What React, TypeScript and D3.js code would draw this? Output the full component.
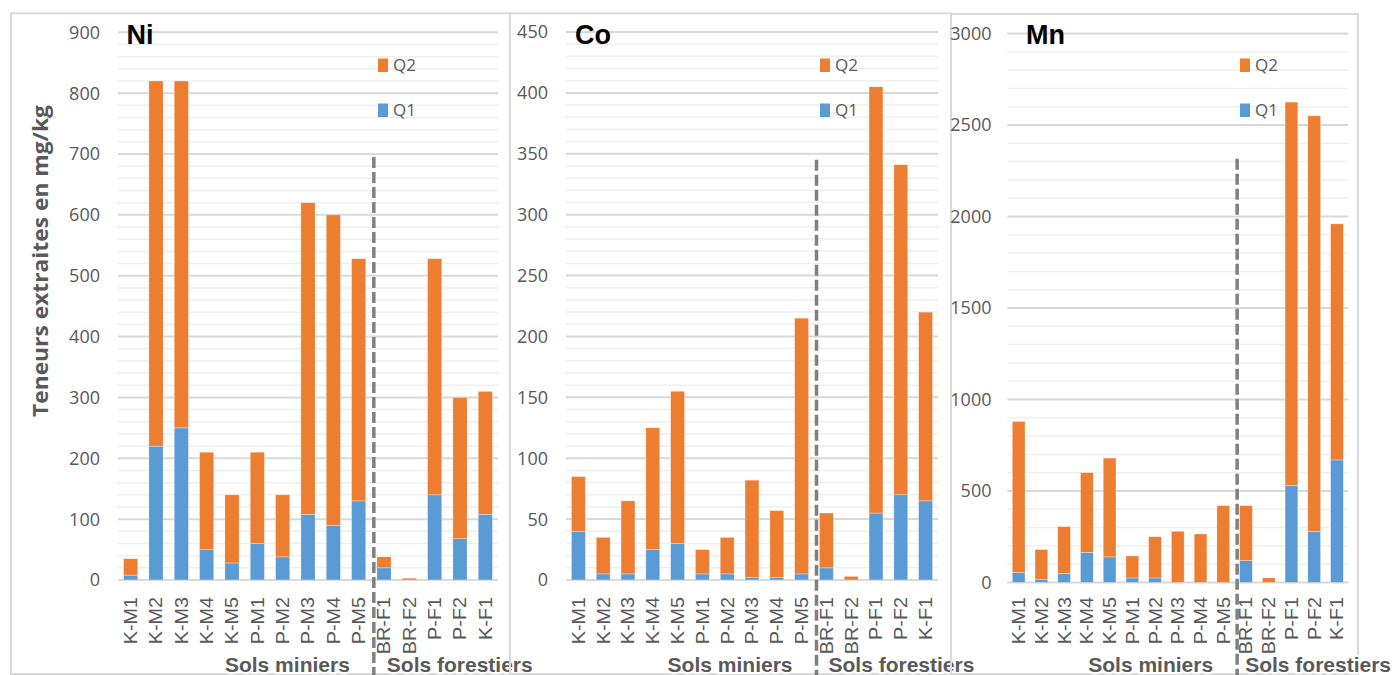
import React, { useEffect } from "react";
import * as d3 from "d3";

const categories = ["K-M1", "K-M2", "K-M3", "K-M4", "K-M5", "P-M1", "P-M2", "P-M3", "P-M4", "P-M5", "BR-F1", "BR-F2", "P-F1", "P-F2", "K-F1"];
const seriesNames = ["Q1", "Q2"];

const niQ1 = [8, 220, 250, 50, 28, 60, 38, 108, 90, 130, 20, 0, 140, 68, 108];
const niQ2 = [27, 600, 570, 160, 112, 150, 102, 512, 510, 398, 18, 3, 388, 232, 202];

const coQ1 = [40, 5, 5, 25, 30, 5, 5, 2, 2, 5, 10, 0, 55, 70, 65];
const coQ2 = [45, 30, 60, 100, 125, 20, 30, 80, 55, 210, 45, 3, 350, 271, 155];

const mnQ1 = [55, 18, 50, 165, 140, 25, 25, 0, 0, 0, 120, 0, 530, 280, 670];
const mnQ2 = [825, 162, 255, 435, 540, 120, 225, 280, 265, 420, 300, 25, 2095, 2270, 1290];

const niTicks = [0, 100, 200, 300, 400, 500, 600, 700, 800, 900];
const coTicks = [0, 50, 100, 150, 200, 250, 300, 350, 400, 450];
const mnTicks = [0, 500, 1000, 1500, 2000, 2500, 3000];

const groupLabels = ["Sols miniers", "Sols forestiers"];
const yTitle = "Teneurs extraites en mg/kg";

const COLORS: Record<string, string> = { Q1: "#5B9BD5", Q2: "#ED7D31" };
const GREY = "#595959";

type Panel = {
  title: string;
  q1: number[];
  q2: number[];
  ticks: number[];
  x0: number; x1: number;
  y0: number; y1: number;
  tickRight: number;
  titleX: number;
  legendX: number;
  dashTop: number;
  frame: [number, number, number];
  forestOffset: number;
};

const panels: Panel[] = [
  { title: "Ni", q1: niQ1, q2: niQ2, ticks: niTicks, x0: 118, x1: 498, y0: 580, y1: 32.3, tickRight: 100, titleX: 126.5, legendX: 378, dashTop: 695, frame: [11, 510, 13.3], forestOffset: 13 },
  { title: "Co", q1: coQ1, q2: coQ2, ticks: coTicks, x0: 566, x1: 938, y0: 580, y1: 32, tickRight: 548, titleX: 575, legendX: 820, dashTop: 345, frame: [510, 951, 13.3], forestOffset: 12 },
  { title: "Mn", q1: mnQ1, q2: mnQ2, ticks: mnTicks, x0: 1007.3, x1: 1348.3, y0: 582.5, y1: 33.5, tickRight: 991.5, titleX: 1026, legendX: 1240, dashTop: 2315, frame: [951, 1358, 14], forestOffset: 8 },
];

function ChartPanel({ p }: { p: Panel }) {
  const maxV = p.ticks[p.ticks.length - 1];
  const step = p.ticks[1] - p.ticks[0];
  const x = d3.scaleBand<string>().domain(categories).range([p.x0, p.x1]).paddingInner(0.44).paddingOuter(0.22);
  const y = d3.scaleLinear().domain([0, maxV]).range([p.y0, p.y1]);
  const minorTicks = d3.range(0, maxV + 1e-9, step / 5).filter((v) => !p.ticks.some((t) => Math.abs(t - v) < 1e-6));
  const rows = categories.map((c, i) => ({ cat: c, Q1: p.q1[i], Q2: p.q2[i] }));
  const stacked = d3.stack<any>().keys(seriesNames)(rows);
  const dashX = (x(categories[9])! + x(categories[10])! + x.bandwidth()) / 2 + 2.5;
  const [fx0, fx1, fy0] = p.frame;
  return (
    <g>
      <rect x={fx0} y={fy0} width={fx1 - fx0} height={674 - fy0} fill="none" stroke="#D9D9D9" strokeWidth={2} />
      {minorTicks.map((v) => (
        <line key={"m" + v} x1={p.x0} x2={p.x1} y1={y(v)} y2={y(v)} stroke="#EFEFEF" strokeWidth={1.5} />
      ))}
      {p.ticks.map((v) => (
        <line key={"M" + v} x1={p.x0} x2={p.x1} y1={y(v)} y2={y(v)} stroke="#D9D9D9" strokeWidth={2} />
      ))}
      {p.ticks.map((v) => (
        <text key={"t" + v} x={p.tickRight} y={y(v)} dy="0.36em" textAnchor="end" fontFamily="'Open Sans', sans-serif" fontSize={18} fill={GREY}>
          {v}
        </text>
      ))}
      {stacked.map((s) => (
        <g key={s.key} fill={COLORS[s.key]}>
          {s.map((d, i) =>
            d[1] - d[0] > 0 ? (
              <rect key={i} x={x(categories[i])} width={x.bandwidth()} y={y(d[1])} height={y(d[0]) - y(d[1])} stroke="#ffffff" strokeOpacity={0.5} strokeWidth={0.6} />
            ) : null
          )}
        </g>
      ))}
      {categories.map((c) => {
        const cx = x(c)! + x.bandwidth() / 2;
        return (
          <text key={c} transform={`translate(${cx},597) rotate(-90) scale(1.1,1)`} dy="0.36em" textAnchor="end" fontFamily="'Liberation Sans', Arial, sans-serif" fontSize={18} fill={GREY}>
            {c}
          </text>
        );
      })}
      <line x1={dashX} x2={dashX} y1={y(p.dashTop)} y2={675} stroke="#808080" strokeWidth={3.5} strokeDasharray="11,4" />
      <text x={dashX - 24} y={671.5} textAnchor="end" fontFamily="'Liberation Sans', Arial, sans-serif" fontWeight="bold" fontSize={21} fill={GREY} stroke="#fff" strokeWidth={4} paintOrder="stroke">
        {groupLabels[0]}
      </text>
      <text x={dashX + p.forestOffset} y={671.5} textAnchor="start" fontFamily="'Liberation Sans', Arial, sans-serif" fontWeight="bold" fontSize={21} fill={GREY} stroke="#fff" strokeWidth={4} paintOrder="stroke">
        {groupLabels[1]}
      </text>
      <text x={p.titleX} y={43.5} fontFamily="'Liberation Sans', Arial, sans-serif" fontWeight="bold" fontSize={27} fill="#000">
        {p.title}
      </text>
      {["Q2", "Q1"].map((k, i) => (
        <g key={k}>
          <rect x={p.legendX} y={58.5 + i * 45} width={10} height={13.5} fill={COLORS[k]} />
          <text x={p.legendX + 15} y={65 + i * 45} dy="0.36em" fontFamily="'Open Sans', sans-serif" fontSize={17} fill={GREY}>
            {k}
          </text>
        </g>
      ))}
    </g>
  );
}

export default function App() {
  useEffect(() => {
    document.body.style.margin = "0";
  }, []);
  return (
    <svg width={1394} height={675} style={{ display: "block", background: "#fff" }}>
      <rect x={0} y={0} width={1394} height={675} fill="#fff" />
      {panels.map((p) => (
        <ChartPanel key={p.title} p={p} />
      ))}
      <text transform="translate(48,261) rotate(-90)" textAnchor="middle" fontFamily="'Open Sans', sans-serif" fontWeight="bold" fontSize={20.5} fill={GREY} textLength={312} lengthAdjust="spacingAndGlyphs">
        {yTitle}
      </text>
    </svg>
  );
}
